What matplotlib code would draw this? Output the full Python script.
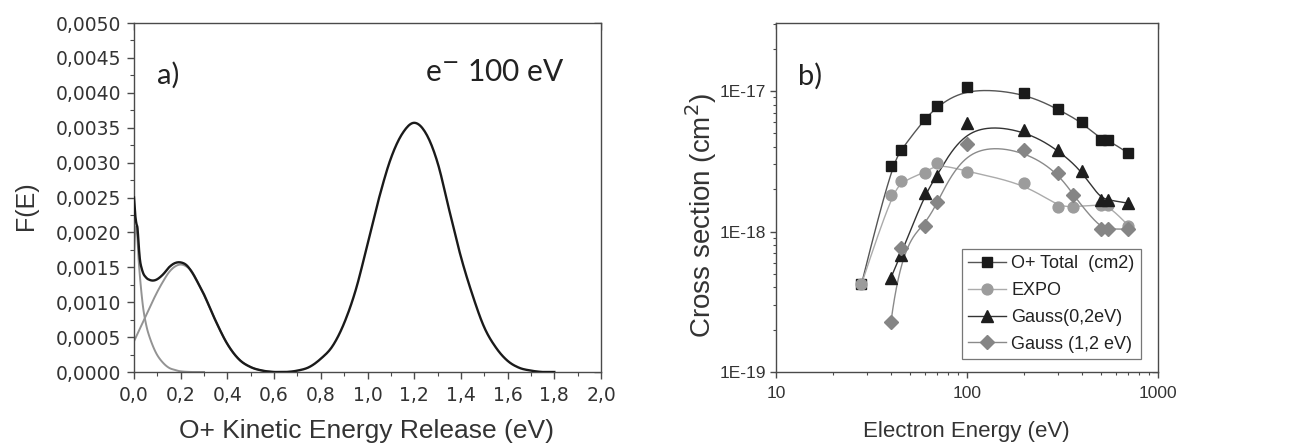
import numpy as np
import matplotlib
matplotlib.use("Agg")
import matplotlib.pyplot as plt
from matplotlib.ticker import MultipleLocator, FuncFormatter, FixedLocator, NullFormatter
from matplotlib.lines import Line2D

# ---------------- data: panel a) ----------------
E_total_a = [0.0, 0.005, 0.01, 0.015, 0.02, 0.025, 0.03, 0.04, 0.05, 0.06, 0.08, 0.1,
             0.125, 0.15, 0.175, 0.2, 0.225, 0.25, 0.275, 0.3, 0.35, 0.4, 0.45, 0.5,
             0.55, 0.6, 0.65, 0.7, 0.75, 0.8, 0.85, 0.9, 0.95, 1.0, 1.05, 1.1, 1.15,
             1.2, 1.25, 1.3, 1.35, 1.4, 1.45, 1.5, 1.55, 1.6, 1.65, 1.7, 1.75, 1.8]
F_total_a = [0.00250, 0.00226, 0.00213, 0.00206, 0.00182, 0.00162, 0.00152, 0.00141,
             0.00136, 0.00133, 0.00131, 0.00133, 0.00140, 0.00150, 0.00156, 0.00157,
             0.00153, 0.00142, 0.00127, 0.00111, 0.00073, 0.00040, 0.00018, 0.00007,
             0.00002, 0.00000, 0.00000, 0.00002, 0.00007, 0.00019, 0.00037, 0.00070,
             0.00118, 0.00183, 0.00250, 0.00306, 0.00342, 0.00357, 0.00342, 0.00300,
             0.00232, 0.00165, 0.00110, 0.00064, 0.00035, 0.00016, 0.00006, 0.00002,
             0.00000, 0.00000]

E_expo_a = [0.0, 0.005, 0.01, 0.015, 0.02, 0.03, 0.04, 0.05, 0.06, 0.08, 0.1, 0.125,
            0.15, 0.175, 0.2, 0.25, 0.3]
F_expo_a = [0.00165, 0.00200, 0.00208, 0.00190, 0.00160, 0.00120, 0.00090, 0.00071,
            0.00057, 0.00038, 0.00024, 0.00013, 0.00006, 0.00003, 0.00001, 0.0, 0.0]

E_gauss_a = [0.0, 0.025, 0.05, 0.075, 0.1, 0.125, 0.15, 0.175, 0.2, 0.225, 0.25, 0.3,
             0.35, 0.4, 0.45, 0.5, 0.55, 0.6]
F_gauss_a = [0.00044, 0.00062, 0.00080, 0.00098, 0.00115, 0.00130, 0.00143, 0.00151,
             0.00154, 0.00151, 0.00143, 0.00110, 0.00073, 0.00040, 0.00018, 0.00007,
             0.00002, 0.0]

# ---------------- data: panel b) ----------------
E_tot = [28, 40, 45, 60, 70, 100, 200, 300, 400, 500, 550, 700]
cs_tot = [4.2e-19, 2.94e-18, 3.8e-18, 6.3e-18, 7.8e-18, 1.06e-17, 9.7e-18, 7.4e-18,
          6.0e-18, 4.5e-18, 4.5e-18, 3.6e-18]
E_expo = [28, 40, 45, 60, 70, 100, 200, 300, 360, 500, 550, 700]
cs_expo = [4.2e-19, 1.82e-18, 2.29e-18, 2.6e-18, 3.06e-18, 2.67e-18, 2.2e-18, 1.5e-18,
           1.5e-18, 1.55e-18, 1.55e-18, 1.1e-18]
E_g02 = [40, 45, 60, 70, 100, 200, 300, 400, 500, 550, 700]
cs_g02 = [4.7e-19, 6.8e-19, 1.87e-18, 2.5e-18, 5.9e-18, 5.3e-18, 3.8e-18, 2.7e-18,
          1.68e-18, 1.68e-18, 1.59e-18]
E_g12 = [40, 45, 60, 70, 100, 200, 300, 360, 500, 550, 700]
cs_g12 = [2.28e-19, 7.6e-19, 1.1e-18, 1.61e-18, 4.2e-18, 3.8e-18, 2.6e-18, 1.82e-18,
          1.04e-18, 1.04e-18, 1.04e-18]

labels_b = ["O+ Total  (cm2)", "EXPO", "Gauss(0,2eV)", "Gauss (1,2 eV)"]
xticks_b = [10, 100, 1000]
yticks_b = [1e-19, 1e-18, 1e-17]
ytick_labels_b = ["1E-19", "1E-18", "1E-17"]


def smooth_through(x, y, per=12):
    """Cubic Hermite (Catmull-Rom) rendering through the given points."""
    x = np.asarray(x, float); y = np.asarray(y, float)
    n = len(x)
    m = np.zeros(n)
    m[1:-1] = (y[2:] - y[:-2]) / (x[2:] - x[:-2])
    m[0] = (y[1] - y[0]) / (x[1] - x[0])
    m[-1] = (y[-1] - y[-2]) / (x[-1] - x[-2])
    xs, ys = [], []
    for i in range(n - 1):
        h = x[i + 1] - x[i]
        t = np.linspace(0, 1, per, endpoint=False)
        h00 = 2 * t**3 - 3 * t**2 + 1
        h10 = t**3 - 2 * t**2 + t
        h01 = -2 * t**3 + 3 * t**2
        h11 = t**3 - t**2
        xs.append(x[i] + t * h)
        ys.append(h00 * y[i] + h10 * h * m[i] + h01 * y[i + 1] + h11 * h * m[i + 1])
    xs.append([x[-1]]); ys.append([y[-1]])
    return np.concatenate(xs), np.clip(np.concatenate(ys), 0, None)


def bspline_loglog(x, y, deg=3, num=400):
    """Clamped B-spline (Origin-like) with the data points as control points, in log-log space."""
    P = np.column_stack([np.log10(x), np.log10(y)])
    n = len(P)
    deg = min(deg, n - 1)
    kv = np.concatenate([np.zeros(deg), np.linspace(0, 1, n - deg + 1), np.ones(deg)])
    t = np.linspace(0, 1, num)
    t[-1] = 1 - 1e-12
    N = np.array([((kv[i] <= t) & (t < kv[i + 1])).astype(float) for i in range(len(kv) - 1)])
    for p in range(1, deg + 1):
        Nn = np.zeros((len(kv) - 1 - p, num))
        for i in range(len(kv) - 1 - p):
            d1 = kv[i + p] - kv[i]
            d2 = kv[i + p + 1] - kv[i + 1]
            a = (t - kv[i]) / d1 * N[i] if d1 > 0 else 0
            b = (kv[i + p + 1] - t) / d2 * N[i + 1] if d2 > 0 else 0
            Nn[i] = a + b
        N = Nn
    C = N.T @ P
    return 10 ** C[:, 0], 10 ** C[:, 1]


W, H = 1299, 447
fig = plt.figure(figsize=(W / 100, H / 100), dpi=100)
fig.patch.set_facecolor("white")

spine_c = "#4a4a4a"
tick_font = "DejaVu Sans"
label_font = ["Liberation Sans", "DejaVu Sans"]


def mirror_ticks(ax, pos, major_len, minor_len):
    """Overlay axes that carries inward ticks on the top and right edges."""
    ov = fig.add_axes(pos, sharex=ax, sharey=ax, facecolor="none")
    ov.tick_params(which="both", direction="in", bottom=False, left=False,
                   top=True, right=True, labelbottom=False, labelleft=False,
                   labeltop=False, labelright=False, color=spine_c)
    ov.tick_params(which="major", length=major_len, width=1)
    ov.tick_params(which="minor", length=minor_len, width=0.8)
    for s in ov.spines.values():
        s.set_visible(False)
    ov.set_zorder(ax.get_zorder() - 1)
    return ov


# ================= panel a =================
pos_a = [134 / W, 75 / H, 467 / W, 349 / H]
axa = fig.add_axes(pos_a)
gx, gy = smooth_through(E_gauss_a, F_gauss_a)
axa.plot(gx, gy, color="#939393", lw=1.4, zorder=2)
ex, ey = smooth_through(E_expo_a, F_expo_a, per=6)
axa.plot(ex, ey, color="#939393", lw=1.4, zorder=2)
tx, ty = smooth_through(E_total_a, F_total_a, per=10)
axa.plot(tx, ty, color="#1a1a1a", lw=1.7, zorder=3)

axa.set_xlim(0, 2.0)
axa.set_ylim(0, 0.005)
axa.xaxis.set_major_locator(MultipleLocator(0.2))
axa.xaxis.set_minor_locator(MultipleLocator(0.1))
axa.yaxis.set_major_locator(MultipleLocator(0.0005))
axa.yaxis.set_minor_locator(MultipleLocator(0.00025))
axa.xaxis.set_major_formatter(FuncFormatter(lambda v, _: f"{v:.1f}".replace(".", ",")))
axa.yaxis.set_major_formatter(FuncFormatter(lambda v, _: f"{v:.4f}".replace(".", ",")))
axa.tick_params(which="major", direction="out", length=5, width=1, color=spine_c,
                labelsize=13.5, labelcolor="#333333")
axa.tick_params(which="minor", direction="out", length=3, width=0.8, color=spine_c)
axa.tick_params(axis="x", pad=5)
axa.tick_params(axis="y", pad=4)
for lab in axa.get_xticklabels() + axa.get_yticklabels():
    lab.set_family(tick_font)
for s in axa.spines.values():
    s.set_color(spine_c); s.set_linewidth(1.0)
mirror_ticks(axa, pos_a, 5, 3)

axa.set_xlabel("O+ Kinetic Energy Release (eV)", fontsize=19, family=label_font, color="#333333")
axa.set_ylabel("F(E)", fontsize=18, family=label_font, color="#333333")
axa.xaxis.set_label_coords(0.497, -0.135)
axa.yaxis.set_label_coords(-0.205, 0.476)

axa.text(0.049, 0.851, "a)", transform=axa.transAxes, fontsize=21, family="Lato",
         va="center", ha="left", color="#222222")
axa.text(0.623, 0.86, r"e$^{-}$ 100 eV", transform=axa.transAxes, fontsize=21.5,
         family="Lato", va="center", ha="left", color="#222222")

# ================= panel b =================
pos_b = [776 / W, 75 / H, 382 / W, 349 / H]
axb = fig.add_axes(pos_b)
axb.set_xscale("log")
axb.set_yscale("log")

series = [
    (E_tot, cs_tot, "s", "#1a1a1a", "#555555", 6.8),
    (E_expo, cs_expo, "o", "#9c9c9c", "#ababab", 7.8),
    (E_g02, cs_g02, "^", "#1e1e1e", "#333333", 8.8),
    (E_g12, cs_g12, "D", "#858585", "#8a8a8a", 7.0),
]
handles = []
for (ex_, cy_, mk, mc, lc, ms), lab in zip(series, labels_b):
    sx, sy = bspline_loglog(ex_, cy_)
    axb.plot(sx, sy, color=lc, lw=1.0, zorder=2)
    axb.plot(ex_, cy_, linestyle="none", marker=mk, ms=ms, mfc=mc, mec=mc, zorder=3)
    handles.append(Line2D([], [], color=lc, lw=1.0, marker=mk, ms=ms, mfc=mc, mec=mc))

axb.set_xlim(10, 1000)
axb.set_ylim(1e-19, 3.05e-17)
minor_x = [m * d for d in (10, 100) for m in range(2, 10)]
minor_y = [m * d for d in (1e-19, 1e-18, 1e-17) for m in range(2, 10) if m * d <= 3.05e-17]
axb.xaxis.set_major_locator(FixedLocator(xticks_b))
axb.xaxis.set_minor_locator(FixedLocator(minor_x))
axb.yaxis.set_major_locator(FixedLocator(yticks_b))
axb.yaxis.set_minor_locator(FixedLocator(minor_y))
axb.xaxis.set_major_formatter(FuncFormatter(lambda v, _: f"{int(round(v))}"))
axb.yaxis.set_major_formatter(FuncFormatter(
    lambda v, _: ytick_labels_b[int(np.argmin([abs(np.log10(v) - np.log10(t)) for t in yticks_b]))]))
axb.xaxis.set_minor_formatter(NullFormatter())
axb.yaxis.set_minor_formatter(NullFormatter())
axb.tick_params(which="major", direction="out", length=4, width=1, color=spine_c,
                labelsize=12.5, labelcolor="#333333")
axb.tick_params(which="minor", direction="out", length=2.5, width=0.8, color=spine_c)
axb.tick_params(axis="x", pad=6)
axb.tick_params(axis="y", pad=3)
for lab in axb.get_xticklabels() + axb.get_yticklabels():
    lab.set_family(label_font)
for s in axb.spines.values():
    s.set_color(spine_c); s.set_linewidth(1.0)
mirror_ticks(axb, pos_b, 4, 2.5)

axb.set_xlabel("Electron Energy (eV)", fontsize=16, family=label_font, color="#333333")
axb.set_ylabel("Cross section (cm$^2$)", fontsize=20, family=label_font, color="#333333")
axb.xaxis.set_label_coords(0.497, -0.14)
axb.yaxis.set_label_coords(-0.15, 0.45)

axb.text(0.058, 0.848, "b)", transform=axb.transAxes, fontsize=21, family="Lato",
         va="center", ha="left", color="#222222")

leg = axb.legend(handles, labels_b, loc="lower right", bbox_to_anchor=(0.955, 0.037),
                 borderaxespad=0, frameon=True, fancybox=False, framealpha=1,
                 edgecolor="#777777", prop={"family": label_font, "size": 13},
                 handlelength=2.1, handletextpad=0.3, labelspacing=0.55,
                 borderpad=0.35, labelcolor="#222222")
leg.get_frame().set_linewidth(0.9)
leg.set_zorder(5)

fig.savefig("out.png", dpi=100, facecolor="white")
